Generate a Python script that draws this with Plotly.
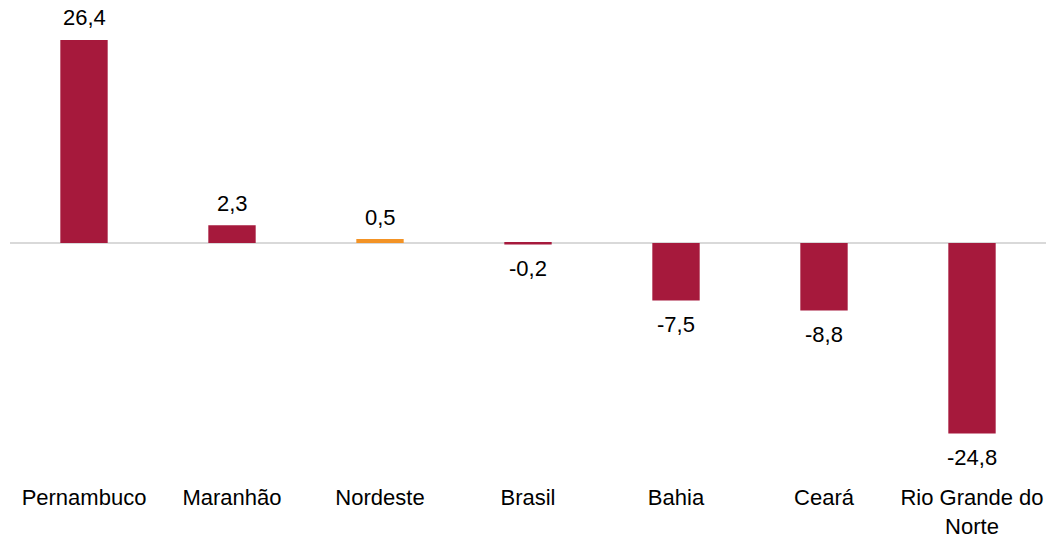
import plotly.graph_objects as go

categories = ["Pernambuco", "Maranhão", "Nordeste", "Brasil", "Bahia", "Ceará", "Rio Grande do<br>Norte"]
values = [26.4, 2.3, 0.5, -0.2, -7.5, -8.8, -24.8]
colors = ["#A6193C", "#A6193C", "#F39325", "#A6193C", "#A6193C", "#A6193C", "#A6193C"]

fig = go.Figure(go.Bar(
    x=categories, y=values,
    marker=dict(color=colors, line=dict(width=0)),
    hoverinfo="x+y",
))

for c, v in zip(categories, values):
    fig.add_annotation(
        x=c, y=v, text=f"{v:.1f}".replace(".", ","),
        showarrow=False, xanchor="center", yanchor="middle",
        yshift=22 if v >= 0 else -24,
        font=dict(family="Liberation Sans, Arial", size=22, color="#000000"),
    )

fig.update_layout(
    width=1046, height=538,
    margin=dict(l=10, r=0, t=10, b=56, autoexpand=False),
    plot_bgcolor="white", paper_bgcolor="white",
    bargap=0.68,
    showlegend=False,
    font=dict(family="Liberation Sans, Arial", size=22, color="#000000"),
)
fig.update_xaxes(showline=False, ticks="", showgrid=False, automargin=False,
                 tickfont=dict(size=22, color="#000000"))
fig.update_yaxes(range=[-31.1, 30.3], showticklabels=False, showgrid=False, automargin=False,
                 zeroline=True, zerolinecolor="#D9D9D9", zerolinewidth=2)

fig.write_html(
    "out.html",
    config={"displayModeBar": False},
    post_script="document.body.style.margin='0px';document.body.style.overflow='hidden';",
)
